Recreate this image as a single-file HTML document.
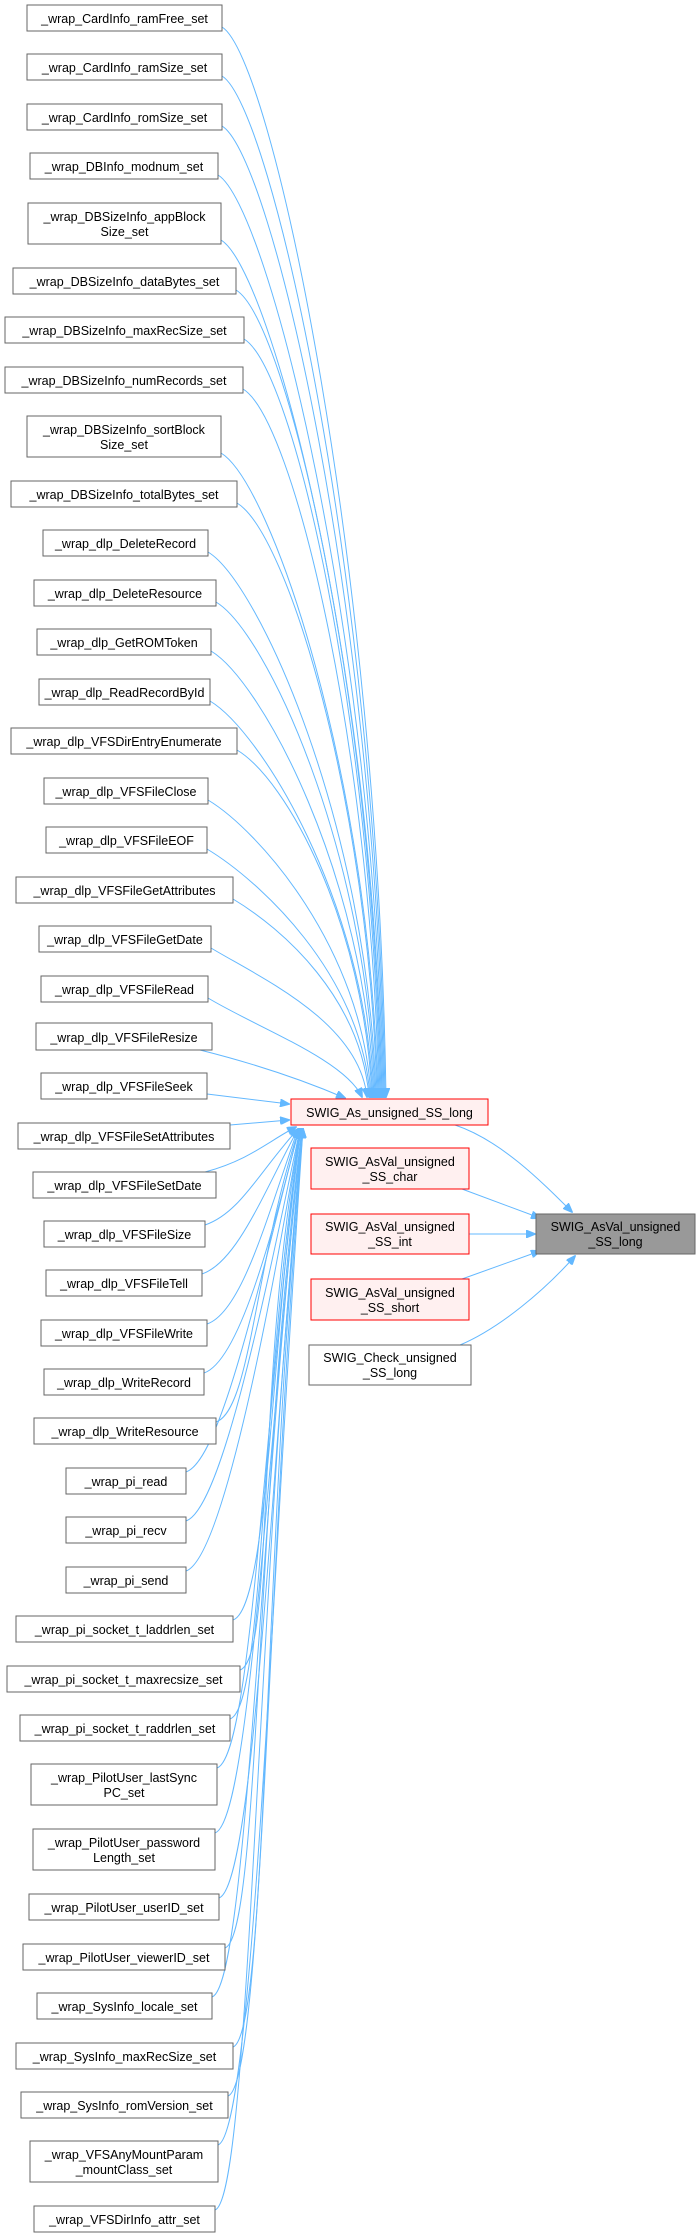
<!DOCTYPE html>
<html><head><meta charset="utf-8"><style>
html,body{margin:0;padding:0;background:#fff;}
svg{display:block;}
text{font-family:"Liberation Sans",Arial,sans-serif;font-size:12.5px;fill:#000;text-anchor:middle;}
.n{fill:#fff;stroke:#666;stroke-width:1;}
.r{fill:#fff0f0;stroke:#ff0000;stroke-width:1;}
.g{fill:#999;stroke:#666;stroke-width:1;}
.e{fill:none;stroke:#63b8ff;stroke-width:1;}
</style></head><body>
<svg width="697" height="2238" viewBox="0 0 697 2238" xmlns="http://www.w3.org/2000/svg">
<defs><marker id="a" markerWidth="10" markerHeight="8" refX="9" refY="4" orient="auto" markerUnits="userSpaceOnUse"><path d="M0,0 L10,4 L0,8 z" fill="#63b8ff" stroke="#63b8ff"/></marker></defs>
<g class="edges">
<path class="e" marker-end="url(#a)" d="M222,27 C272,57 378,562 386,1097"/>
<path class="e" marker-end="url(#a)" d="M222,76 C272,106 377,586 385,1097"/>
<path class="e" marker-end="url(#a)" d="M222,126 C272,156 376,611 384,1097"/>
<path class="e" marker-end="url(#a)" d="M218,175 C268,205 375,636 383,1097"/>
<path class="e" marker-end="url(#a)" d="M221,240 C271,270 374,668 382,1097"/>
<path class="e" marker-end="url(#a)" d="M236,290 C286,320 373,693 381,1097"/>
<path class="e" marker-end="url(#a)" d="M244,339 C294,369 372,718 380,1097"/>
<path class="e" marker-end="url(#a)" d="M243,389 C293,419 371,743 379,1097"/>
<path class="e" marker-end="url(#a)" d="M221,453 C271,483 370,775 378,1097"/>
<path class="e" marker-end="url(#a)" d="M237,503 C287,533 369,800 377,1097"/>
<path class="e" marker-end="url(#a)" d="M208,552 C258,582 368,824 376,1097"/>
<path class="e" marker-end="url(#a)" d="M216,602 C266,632 367,849 375,1097"/>
<path class="e" marker-end="url(#a)" d="M211,651 C261,681 366,874 374,1097"/>
<path class="e" marker-end="url(#a)" d="M210,701 C260,731 365,899 373,1097"/>
<path class="e" marker-end="url(#a)" d="M237,750 C287,780 364,923 372,1097"/>
<path class="e" marker-end="url(#a)" d="M208,800 C258,830 363,948 371,1097"/>
<path class="e" marker-end="url(#a)" d="M207,849 C257,879 362,973 370,1097"/>
<path class="e" marker-end="url(#a)" d="M233,899 C283,929 361,998 369,1097"/>
<path class="e" marker-end="url(#a)" d="M211,948 C261,978 359,1022 367,1097"/>
<path class="e" marker-end="url(#a)" d="M208,998 C258,1028 345,1060 362,1097"/>
<path class="e" marker-end="url(#a)" d="M200,1050 C260,1065 310,1083 345,1098"/>
<path class="e" marker-end="url(#a)" d="M207,1094 L289,1104"/>
<path class="e" marker-end="url(#a)" d="M230,1125 L289,1120"/>
<path class="e" marker-end="url(#a)" d="M205,1172 C250,1160 270,1140 296,1127"/>
<path class="e" marker-end="url(#a)" d="M205,1225 C240,1213 259,1172 298,1129"/>
<path class="e" marker-end="url(#a)" d="M202,1274 C237,1262 263,1194 298,1129"/>
<path class="e" marker-end="url(#a)" d="M207,1324 C242,1312 267,1217 298,1129"/>
<path class="e" marker-end="url(#a)" d="M204,1373 C239,1361 271,1239 299,1129"/>
<path class="e" marker-end="url(#a)" d="M216,1422 C251,1410 255,1261 299,1129"/>
<path class="e" marker-end="url(#a)" d="M186,1472 C221,1460 259,1283 299,1129"/>
<path class="e" marker-end="url(#a)" d="M186,1521 C221,1509 263,1305 300,1129"/>
<path class="e" marker-end="url(#a)" d="M186,1571 C221,1559 267,1328 300,1129"/>
<path class="e" marker-end="url(#a)" d="M233,1620 C268,1608 271,1350 300,1129"/>
<path class="e" marker-end="url(#a)" d="M240,1670 C275,1658 255,1372 301,1129"/>
<path class="e" marker-end="url(#a)" d="M230,1719 C265,1707 259,1395 301,1129"/>
<path class="e" marker-end="url(#a)" d="M217,1768 C252,1756 263,1417 301,1129"/>
<path class="e" marker-end="url(#a)" d="M215,1833 C250,1821 267,1446 302,1129"/>
<path class="e" marker-end="url(#a)" d="M219,1898 C254,1886 271,1475 302,1129"/>
<path class="e" marker-end="url(#a)" d="M225,1948 C260,1936 255,1498 302,1129"/>
<path class="e" marker-end="url(#a)" d="M212,1997 C247,1985 259,1520 302,1129"/>
<path class="e" marker-end="url(#a)" d="M233,2047 C268,2035 263,1542 303,1129"/>
<path class="e" marker-end="url(#a)" d="M228,2096 C263,2084 267,1564 303,1129"/>
<path class="e" marker-end="url(#a)" d="M218,2145 C253,2133 271,1586 303,1129"/>
<path class="e" marker-end="url(#a)" d="M215,2210 C250,2198 255,1615 303,1129"/>
<path class="e" marker-end="url(#a)" d="M455,1125 C500,1140 540,1180 572,1212"/>
<path class="e" marker-end="url(#a)" d="M462,1189 L540,1218"/>
<path class="e" marker-end="url(#a)" d="M469,1234 L535,1234"/>
<path class="e" marker-end="url(#a)" d="M462,1279 L540,1251"/>
<path class="e" marker-end="url(#a)" d="M460,1345 C500,1328 545,1290 575,1256"/>
</g>
<g>
<rect class="n" x="27" y="5" width="195" height="26"/><text x="124.5" y="23">_wrap_CardInfo_ramFree_set</text>
<rect class="n" x="27" y="54" width="195" height="26"/><text x="124.5" y="72">_wrap_CardInfo_ramSize_set</text>
<rect class="n" x="27" y="104" width="195" height="26"/><text x="124.5" y="122">_wrap_CardInfo_romSize_set</text>
<rect class="n" x="30" y="153" width="188" height="26"/><text x="124" y="171">_wrap_DBInfo_modnum_set</text>
<rect class="n" x="28" y="203" width="193" height="41"/><text x="124.5" y="221">_wrap_DBSizeInfo_appBlock</text><text x="124.5" y="236">Size_set</text>
<rect class="n" x="13" y="268" width="223" height="26"/><text x="124.5" y="286">_wrap_DBSizeInfo_dataBytes_set</text>
<rect class="n" x="5" y="317" width="239" height="26"/><text x="124.5" y="335">_wrap_DBSizeInfo_maxRecSize_set</text>
<rect class="n" x="5" y="367" width="238" height="26"/><text x="124" y="385">_wrap_DBSizeInfo_numRecords_set</text>
<rect class="n" x="27" y="416" width="194" height="41"/><text x="124" y="434">_wrap_DBSizeInfo_sortBlock</text><text x="124" y="449">Size_set</text>
<rect class="n" x="11" y="481" width="226" height="26"/><text x="124" y="499">_wrap_DBSizeInfo_totalBytes_set</text>
<rect class="n" x="43" y="530" width="165" height="26"/><text x="125.5" y="548">_wrap_dlp_DeleteRecord</text>
<rect class="n" x="34" y="580" width="182" height="26"/><text x="125" y="598">_wrap_dlp_DeleteResource</text>
<rect class="n" x="37" y="629" width="174" height="26"/><text x="124" y="647">_wrap_dlp_GetROMToken</text>
<rect class="n" x="39" y="679" width="171" height="26"/><text x="124.5" y="697">_wrap_dlp_ReadRecordById</text>
<rect class="n" x="11" y="728" width="226" height="26"/><text x="124" y="746">_wrap_dlp_VFSDirEntryEnumerate</text>
<rect class="n" x="44" y="778" width="164" height="26"/><text x="126" y="796">_wrap_dlp_VFSFileClose</text>
<rect class="n" x="46" y="827" width="161" height="26"/><text x="126.5" y="845">_wrap_dlp_VFSFileEOF</text>
<rect class="n" x="16" y="877" width="217" height="26"/><text x="124.5" y="895">_wrap_dlp_VFSFileGetAttributes</text>
<rect class="n" x="39" y="926" width="172" height="26"/><text x="125" y="944">_wrap_dlp_VFSFileGetDate</text>
<rect class="n" x="41" y="976" width="167" height="26"/><text x="124.5" y="994">_wrap_dlp_VFSFileRead</text>
<rect class="n" x="36" y="1023" width="176" height="27"/><text x="124" y="1042">_wrap_dlp_VFSFileResize</text>
<rect class="n" x="41" y="1073" width="166" height="26"/><text x="124" y="1091">_wrap_dlp_VFSFileSeek</text>
<rect class="n" x="18" y="1123" width="212" height="26"/><text x="124" y="1141">_wrap_dlp_VFSFileSetAttributes</text>
<rect class="n" x="33" y="1172" width="183" height="26"/><text x="124.5" y="1190">_wrap_dlp_VFSFileSetDate</text>
<rect class="n" x="44" y="1221" width="161" height="26"/><text x="124.5" y="1239">_wrap_dlp_VFSFileSize</text>
<rect class="n" x="46" y="1270" width="156" height="26"/><text x="124" y="1288">_wrap_dlp_VFSFileTell</text>
<rect class="n" x="41" y="1320" width="166" height="26"/><text x="124" y="1338">_wrap_dlp_VFSFileWrite</text>
<rect class="n" x="44" y="1369" width="160" height="26"/><text x="124" y="1387">_wrap_dlp_WriteRecord</text>
<rect class="n" x="34" y="1418" width="182" height="26"/><text x="125" y="1436">_wrap_dlp_WriteResource</text>
<rect class="n" x="66" y="1468" width="120" height="26"/><text x="126" y="1486">_wrap_pi_read</text>
<rect class="n" x="66" y="1517" width="120" height="26"/><text x="126" y="1535">_wrap_pi_recv</text>
<rect class="n" x="66" y="1567" width="120" height="26"/><text x="126" y="1585">_wrap_pi_send</text>
<rect class="n" x="16" y="1616" width="217" height="26"/><text x="124.5" y="1634">_wrap_pi_socket_t_laddrlen_set</text>
<rect class="n" x="7" y="1666" width="233" height="26"/><text x="123.5" y="1684">_wrap_pi_socket_t_maxrecsize_set</text>
<rect class="n" x="20" y="1715" width="210" height="26"/><text x="125" y="1733">_wrap_pi_socket_t_raddrlen_set</text>
<rect class="n" x="31" y="1764" width="186" height="41"/><text x="124" y="1782">_wrap_PilotUser_lastSync</text><text x="124" y="1797">PC_set</text>
<rect class="n" x="33" y="1829" width="182" height="41"/><text x="124" y="1847">_wrap_PilotUser_password</text><text x="124" y="1862">Length_set</text>
<rect class="n" x="29" y="1894" width="190" height="26"/><text x="124" y="1912">_wrap_PilotUser_userID_set</text>
<rect class="n" x="23" y="1944" width="202" height="26"/><text x="124" y="1962">_wrap_PilotUser_viewerID_set</text>
<rect class="n" x="37" y="1993" width="175" height="26"/><text x="124.5" y="2011">_wrap_SysInfo_locale_set</text>
<rect class="n" x="16" y="2043" width="217" height="26"/><text x="124.5" y="2061">_wrap_SysInfo_maxRecSize_set</text>
<rect class="n" x="21" y="2092" width="207" height="26"/><text x="124.5" y="2110">_wrap_SysInfo_romVersion_set</text>
<rect class="n" x="30" y="2141" width="188" height="41"/><text x="124" y="2159">_wrap_VFSAnyMountParam</text><text x="124" y="2174">_mountClass_set</text>
<rect class="n" x="34" y="2206" width="181" height="26"/><text x="124.5" y="2224">_wrap_VFSDirInfo_attr_set</text>

<rect class="r" x="291" y="1099" width="197" height="26"/><text x="389.5" y="1117">SWIG_As_unsigned_SS_long</text>
<rect class="r" x="311" y="1148" width="158" height="41"/><text x="390" y="1166">SWIG_AsVal_unsigned</text><text x="390" y="1181">_SS_char</text>
<rect class="r" x="311" y="1214" width="158" height="40"/><text x="390" y="1231">SWIG_AsVal_unsigned</text><text x="390" y="1246">_SS_int</text>
<rect class="r" x="311" y="1279" width="158" height="41"/><text x="390" y="1297">SWIG_AsVal_unsigned</text><text x="390" y="1312">_SS_short</text>
<rect class="n" x="309" y="1345" width="162" height="40"/><text x="390" y="1362">SWIG_Check_unsigned</text><text x="390" y="1377">_SS_long</text>
<rect class="g" x="536" y="1214" width="159" height="40"/><text x="615.5" y="1231">SWIG_AsVal_unsigned</text><text x="615.5" y="1246">_SS_long</text>
</g>
</svg>
</body></html>
